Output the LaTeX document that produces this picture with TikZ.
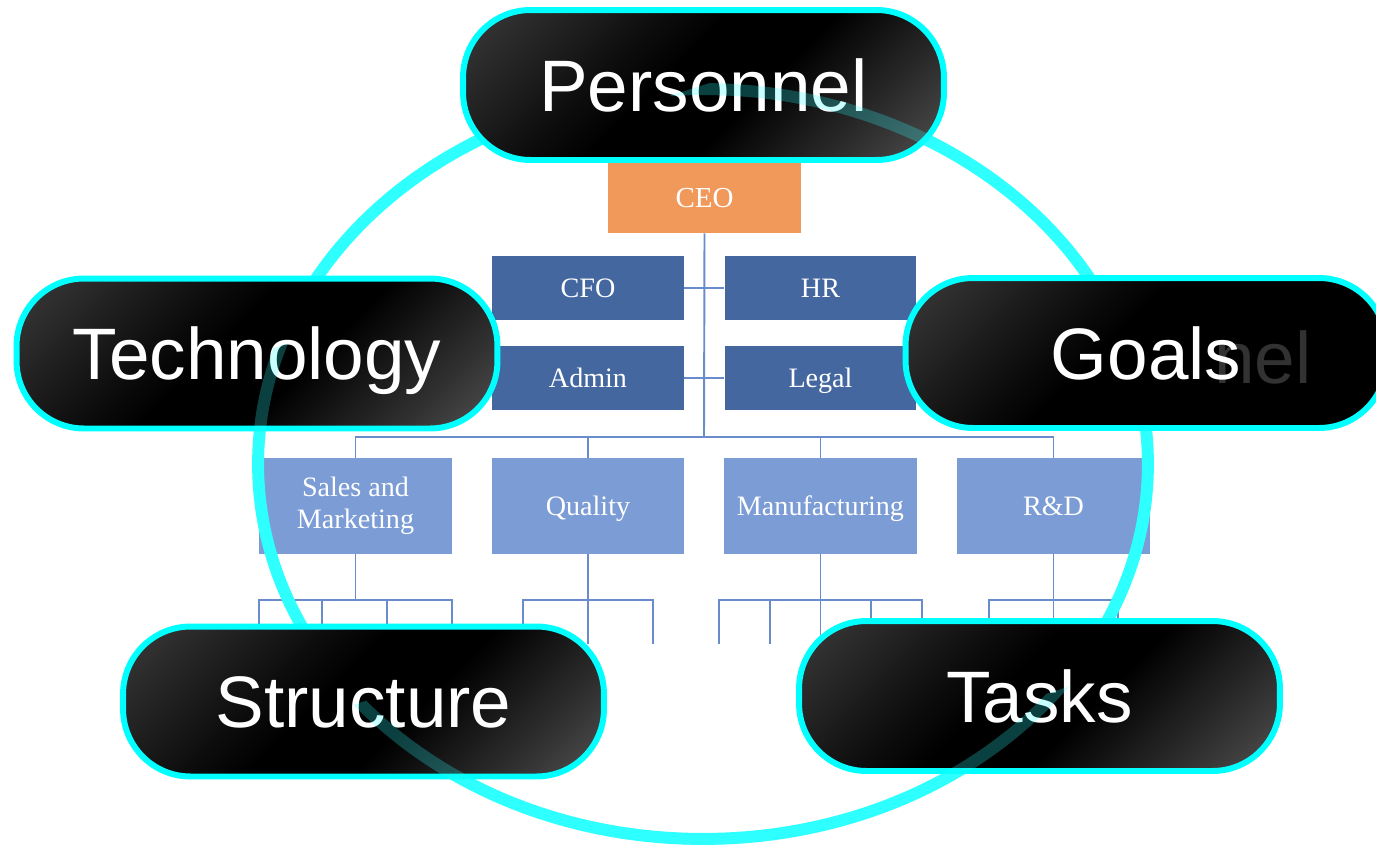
\documentclass[tikz,border=0pt]{standalone}
\usepackage{fontspec}
\setmainfont{Liberation Serif}
\newfontfamily\pillfont{Liberation Sans}
\usetikzlibrary{calc}
\definecolor{ringcyan}{RGB}{46,255,255}
\definecolor{pillborder}{RGB}{0,255,255}
\definecolor{ceoorange}{RGB}{241,153,90}
\definecolor{darkblue}{RGB}{68,103,160}
\definecolor{lightblue}{RGB}{123,156,212}
\definecolor{linecol}{RGB}{105,140,205}
\definecolor{ghostgray}{RGB}{50,50,50}
\definecolor{shA}{RGB}{76,76,76}
\definecolor{shB}{RGB}{48,48,48}
\definecolor{shC}{RGB}{12,12,12}
\definecolor{shD}{RGB}{50,50,50}
\definecolor{shE}{RGB}{128,128,128}
\pgfdeclarehorizontalshading{pillshade}{100bp}{color(0bp)=(shA); color(20bp)=(shB); color(38bp)=(shC); color(45bp)=(black); color(57bp)=(black); color(75bp)=(shD); color(100bp)=(shE)}
\pgfdeclarehorizontalshading{goalshade}{100bp}{color(0bp)=(shA); color(20bp)=(shB); color(38bp)=(shC); color(45bp)=(black); color(100bp)=(black)}
\begin{document}
\begin{tikzpicture}[x=0.02cm, y=-0.02cm,
  pillfontstyle/.style={text=white, font=\pillfont\fontsize{41.5}{48}\selectfont,
    text height=29.7pt, text depth=0pt, inner sep=0pt},
  pill/.style={pillfontstyle, draw=pillborder, line width=3.4pt, rounded corners=1.35cm,
    minimum width=9.62cm, minimum height=3cm,
    shading=pillshade, shading angle=-45},
  pilllabel/.style={pillfontstyle},
  ghost/.style={text=ghostgray, inner sep=0pt,
    font=\pillfont\fontsize{41.5}{48}\selectfont},
  orgbox/.style={inner sep=0pt, text=white, align=center,
    font=\fontsize{16}{18.5}\selectfont},
  oneline/.style={text height=10.6pt, text depth=0pt},
  ceobox/.style={orgbox, oneline, fill=ceoorange, minimum width=3.86cm, minimum height=1.4cm,
    font=\fontsize{16.5}{19}\selectfont},
  lvlone/.style={orgbox, oneline, fill=darkblue, minimum width=3.84cm, minimum height=1.28cm},
  lvltwo/.style={orgbox, fill=lightblue, minimum width=3.86cm, minimum height=1.92cm},
  orgedge/.style={draw=linecol, line width=1.1pt},
  ring/.style={draw=ringcyan, line width=6.8pt},
  ringghost/.style={ring, draw opacity=0.25}
]
\useasboundingbox (0,0) rectangle (1376,846);
\clip (0,0) rectangle (1376,846);

% org chart boxes
\node[ceobox] (ceo) at (704.5,198) {CEO};
\node[lvlone] (cfo) at (588,288) {CFO};
\node[lvlone] (hr) at (820.5,288) {HR};
\node[lvlone] (admin) at (588,378) {Admin};
\node[lvlone] (legal) at (820.5,378) {Legal};
\node[lvltwo] (sales) at (355.5,506) {Sales and\\Marketing};
\node[lvltwo, oneline] (quality) at (588,506) {Quality};
\node[lvltwo, oneline] (mfg) at (820.5,506) {Manufacturing};
\node[lvltwo, oneline] (rd) at (1053.5,506) {R\&D};

% org chart connectors
\coordinate (bus) at (704,437);
\draw[orgedge] (ceo.south) -- (bus);
\draw[orgedge] (cfo.east) -- (hr.west);
\draw[orgedge] (admin.east) -- (legal.west);
\draw[orgedge] (sales.north) |- (bus) -| (rd.north);
\draw[orgedge] (quality.north) -- (quality.north |- bus);
\draw[orgedge] (mfg.north) -- (mfg.north |- bus);

% lower forks
\draw[orgedge] (sales.south) -- (sales.south |- 0,600);
\draw[orgedge] (259,644) -- (259,600) -- (452,600) -- (452,644);
\draw[orgedge] (322,600) -- (322,644);
\draw[orgedge] (387,600) -- (387,644);

\draw[orgedge] (quality.south) -- (588,644);
\draw[orgedge] (523,644) -- (523,600) -- (653,600) -- (653,644);

\draw[orgedge] (mfg.south) -- (820.5,644);
\draw[orgedge] (719,644) -- (719,600) -- (922,600) -- (922,644);
\draw[orgedge] (770,600) -- (770,644);
\draw[orgedge] (871,600) -- (871,644);

\draw[orgedge] (rd.south) -- (1053.5,644);
\draw[orgedge] (989,644) -- (989,600) -- (1118,600) -- (1118,644);

% ring
\draw[ring] (703,464) ellipse [x radius=8.9cm, y radius=7.5cm];

% pills
\node[pill] (personnel) at (703.5,85) {Personnel};
\node[pill] (technology) at (257,353.5) {Technology};
\node[pill, shading=goalshade] (goals) at (1146,353) {};
\node[ghost, anchor=base east] (goalsghost) at ($(goals.center)+(166,30)$) {nel};
\node[pilllabel] (goalslabel) at (goals.center) {Goals};
\node[pill] (structure) at (363.5,701.5) {Structure};
\node[pill] (tasks) at (1039.5,696) {Tasks};

% faint ring showing through the lower-right half of the glossy pills
\foreach \p in {personnel,technology,structure,tasks}{
  \begin{scope}
    \clip (\p.south west) -- (\p.north east) -- (\p.south east) -- cycle;
    \draw[ringghost] (703,464) ellipse [x radius=8.9cm, y radius=7.5cm];
  \end{scope}
}
\end{tikzpicture}
\end{document}
